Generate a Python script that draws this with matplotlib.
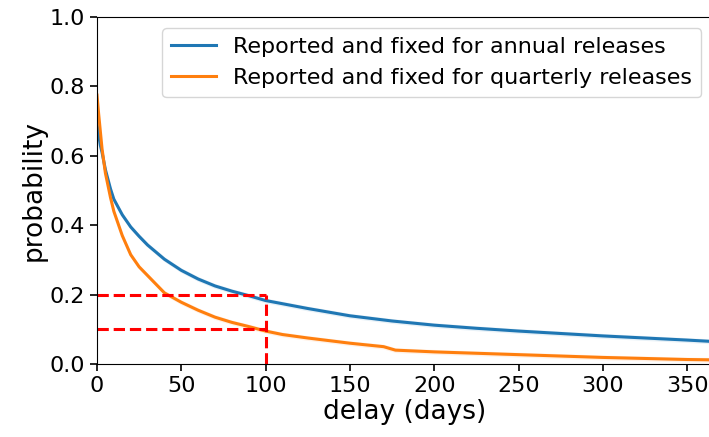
import matplotlib.pyplot as plt

days_annual = [0, 1, 2, 3, 5, 8, 10, 15, 20, 25, 30, 40, 50, 60, 70, 80, 90, 100,
               125, 150, 175, 200, 225, 250, 275, 300, 325, 350, 365]
prob_annual = [0.69, 0.66, 0.63, 0.61, 0.56, 0.505, 0.475, 0.43, 0.395, 0.368, 0.343,
               0.302, 0.27, 0.245, 0.225, 0.21, 0.197, 0.183, 0.16, 0.139, 0.124,
               0.112, 0.103, 0.095, 0.088, 0.081, 0.075, 0.069, 0.065]

days_quarterly = [0, 1, 2, 3, 5, 8, 10, 15, 20, 25, 30, 40, 50, 60, 70, 80, 90, 100,
                  110, 125, 150, 170, 177, 200, 225, 250, 275, 300, 325, 350, 365]
prob_quarterly = [0.775, 0.72, 0.67, 0.62, 0.55, 0.48, 0.44, 0.37, 0.315, 0.28, 0.255,
                  0.205, 0.178, 0.155, 0.135, 0.12, 0.108, 0.095, 0.085, 0.075, 0.06,
                  0.05, 0.04, 0.035, 0.031, 0.027, 0.023, 0.019, 0.016, 0.013, 0.012]

ci_half = 0.007

fig = plt.figure(figsize=(7.09, 4.37), dpi=100)
ax = fig.add_axes([0.1368, 0.167, 0.868, 0.794])

ax.plot(days_annual, prob_annual, color='#1f77b4', lw=2.2,
        label='Reported and fixed for annual releases')
ax.fill_between(days_annual, [p - ci_half for p in prob_annual],
                [p + ci_half for p in prob_annual], color='#1f77b4', alpha=0.1, lw=0)
ax.plot(days_quarterly, prob_quarterly, color='#ff7f0e', lw=2.2,
        label='Reported and fixed for quarterly releases')
ax.fill_between(days_quarterly, [p - ci_half for p in prob_quarterly],
                [p + ci_half for p in prob_quarterly], color='#ff7f0e', alpha=0.1, lw=0)

# threshold markers
ax.plot([0, 100], [0.2, 0.2], 'r--', lw=2.2)
ax.plot([0, 100], [0.1, 0.1], 'r--', lw=2.2)
ax.plot([100, 100], [0, 0.2], 'r--', lw=2.2)

ax.set_xlim(0, 365)
ax.set_ylim(0, 1.0)
ax.set_xticks([0, 50, 100, 150, 200, 250, 300, 350])
ax.set_yticks([0.0, 0.2, 0.4, 0.6, 0.8, 1.0])
ax.tick_params(labelsize=16, length=5, width=1.2)
ax.set_xlabel('delay (days)', fontsize=19, labelpad=2)
ax.set_ylabel('probability', fontsize=19, labelpad=2)
ax.legend(fontsize=16, loc='upper right')

fig.savefig('out.png', dpi=100)
